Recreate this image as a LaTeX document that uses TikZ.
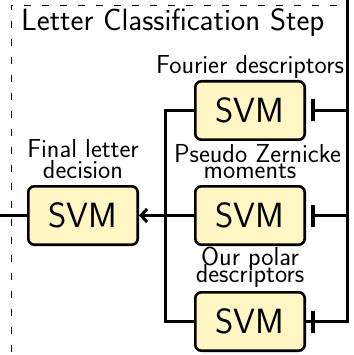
\documentclass[tikz,border=0pt]{standalone}
\usepackage{tikz}
\usetikzlibrary{arrows.meta,positioning}
\definecolor{svmfill}{RGB}{255,246,196}
\newcommand{\labfont}[1]{\sffamily\fontsize{26}{#1}\selectfont\lineskiplimit=-40pt}
\begin{document}
\begin{tikzpicture}[x=1pt,y=-1pt,>={Straight Barb[length=6pt,width=13pt]},
	svm/.style={draw, line width=2.6pt, rounded corners=6pt, fill=svmfill, minimum width=109.4pt, minimum height=58.4pt, inner sep=0pt, font=\sffamily\fontsize{35}{35}\selectfont},
	lab/.style={align=center, inner sep=0pt, font=\labfont{17}},
	wire/.style={line width=3pt}]
%	\draw [help lines] (0,0) grid (353,355);
	\useasboundingbox (0,0) rectangle (353,355);
	\clip (0,0) rectangle (353,355);
	%Riquadro tratteggiato
	\draw [dashed, dash pattern=on 7pt off 11pt, line width=0.9pt] (11,370) |- (347,5);
	\node [anchor=base west, font=\sffamily\fontsize{30.8}{30.8}\selectfont, inner sep=0pt] (title) at (21,31) {Letter Classification Step};
	%Classificatori
	\node [svm] (fourier) at (250,110.5) {SVM};
	\node [svm] (zernike) at (250,215.5) {SVM};
	\node [svm] (polar) at (250,321.5) {SVM};
	\node [svm] (final) at (83,215.5) {SVM};
	\node [lab, above=1.5pt of fourier] (lfourier) {Fourier descriptors};
	\node [lab, above=6pt of zernike, font=\labfont{16}] (lzernike) {\hspace*{15pt}Pseudo Zernicke\\moments};
	\node [lab, above=3.5pt of polar] (lpolar) {Our polar\\descriptors};
	\node [lab, above=6pt of final, font=\labfont{21}] (lfinal) {Final letter\\decision};
	%Collegamenti
	\coordinate (top) at (347.5,-5);
	\coordinate (inp) at (-5,215.5);
	\draw [wire] (top) |- (polar.east);
	\draw [wire, -{Bar[width=22pt,line width=4pt]}] (top |- fourier.east) -- ([xshift=4.5pt]fourier.east);
	\draw [wire, -{Bar[width=22pt,line width=4pt]}] (top |- zernike.east) -- ([xshift=4.5pt]zernike.east);
	\draw [wire, -{Bar[width=22pt,line width=4pt]}] (top |- polar.east) -- ([xshift=4.5pt]polar.east);
	\draw [wire] (fourier.west) -| (165,215.5) |- (polar.west);
	\draw [wire] (zernike.west) -- (165,215.5);
	\draw [wire, ->] (165,215.5) -- (final.east);
	\draw [wire] (inp) -- (final.west);
\end{tikzpicture}
\end{document}
